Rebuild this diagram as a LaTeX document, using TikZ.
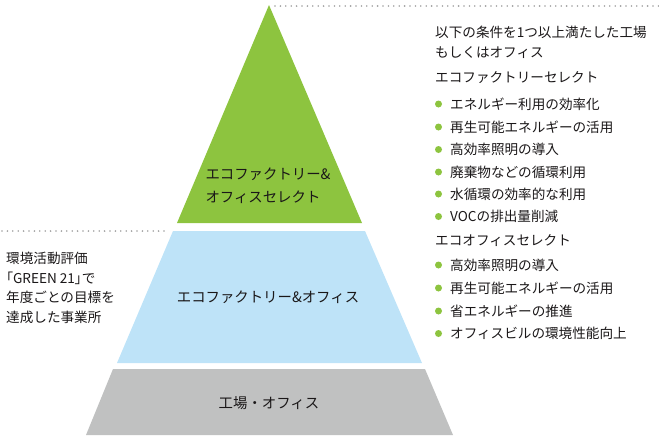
\documentclass[tikz,border=0pt]{standalone}
\usepackage{fontspec}
\setmainfont{Noto Sans CJK JP}
\newfontfamily\jpprop[RawFeature=+palt]{Noto Sans CJK JP}
\usetikzlibrary{positioning}
\definecolor{ecogreen}{HTML}{8DC43F}
\definecolor{ecoblue}{HTML}{BEE3F8}
\definecolor{ecogray}{HTML}{C0C1C1}
\definecolor{dotgray}{HTML}{A0A0A0}
\definecolor{ink}{HTML}{1A1718}
\tikzset{
  tier/.style={draw=none},
  txt/.style={font=\fontsize{13.6}{19.5}\selectfont, text=ink, inner sep=0pt, align=left},
  tierlab/.style={font=\fontsize{14.4}{23}\selectfont, text=ink, inner sep=0pt, align=left},
  item/.style={txt, anchor=west},
  bulletdot/.style={circle, fill=ecogreen, inner sep=0pt, minimum size=7pt},
  guide/.style={draw=dotgray, line width=1.8pt, line cap=round, dash pattern=on 0pt off 5.4pt}
}

\begin{document}
\begin{tikzpicture}[x=1pt, y=-1pt]
\useasboundingbox (0,0) rectangle (659,437);
% pyramid tiers
\fill[tier, ecogreen] (269,5) -- (362,223) -- (177,223) -- cycle;
\fill[tier, ecoblue] (173,231) -- (365,231) -- (422,363) -- (117,363) -- cycle;
\fill[tier, ecogray] (113,369) -- (425,369) -- (453,435) -- (86,435) -- cycle;
% dotted guides
\coordinate (topL) at (275,6); \coordinate (topR) at (659,6);
\coordinate (midL) at (2,231); \coordinate (midR) at (168,231);
\draw[guide] (topL) -- (topR);
\draw[guide] (midL) -- (midR);
% tier labels
\node[tierlab] (select) at (268,185.5) {エコファクトリー\&\\オフィスセレクト};
\node[tierlab] (ecoboth) at (268,297) {エコファクトリー\&オフィス};
\node[tierlab] (base) at (269,403) {工場・オフィス};
% left note
\node[item] (green21) at (6,288) {環境活動評価\\{\jpprop 「GREEN 21」}で\\年度ごとの目標を\\達成した事業所};
% right column
\node[item] (cond) at (435,42.5) {以下の条件を1つ以上満たした工場\\もしくはオフィス};
\node[item] (facsel) at (435,78) {エコファクトリーセレクト};
\foreach \y/\t [count=\i] in {104/エネルギー利用の効率化, 127/再生可能エネルギーの活用, 149.5/高効率照明の導入, 172/廃棄物などの循環利用, 194/水循環の効率的な利用, 216.5/VOCの排出量削減}{
  \node[bulletdot] (fd\i) at (438.5,\y) {};
  \node[item] (ft\i) at (450,\y) {\t};
}
\node[item] (offsel) at (435,240.5) {エコオフィスセレクト};
\foreach \y/\t [count=\i] in {265/高効率照明の導入, 288/再生可能エネルギーの活用, 311/省エネルギーの推進, 333.5/オフィスビルの環境性能向上}{
  \node[bulletdot] (od\i) at (438.5,\y) {};
  \node[item] (ot\i) at (450,\y) {\t};
}
\end{tikzpicture}
\end{document}
